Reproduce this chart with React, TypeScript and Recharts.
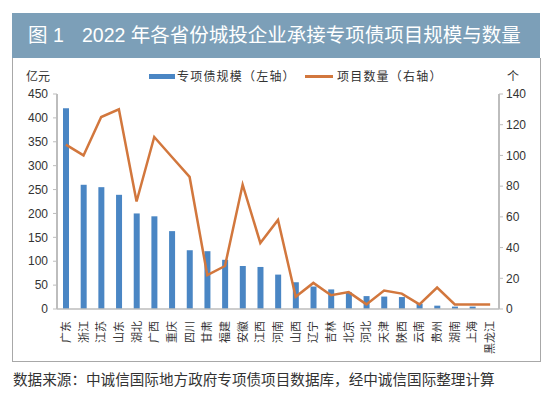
import { ComposedChart, Bar, Line, XAxis, YAxis } from 'recharts'

const provinces = [
  '广东', '浙江', '江苏', '山东', '湖北', '广西', '重庆', '四川', '甘肃', '福建',
  '安徽', '江西', '河南', '山西', '辽宁', '吉林', '北京', '河北', '天津', '陕西',
  '云南', '贵州', '湖南', '上海', '黑龙江',
]
// 专项债规模（亿元）
const scale = [
  420, 260, 255, 239, 200, 194, 163, 123, 121, 103,
  90, 88, 72, 56, 47, 41, 35, 27, 26, 25,
  11, 7, 5, 5, 0,
]
// 项目数量（个）
const counts = [
  107, 100, 125, 130, 70, 112, 99, 86, 22, 28,
  81, 43, 58, 8, 17, 9, 11, 3, 12, 10,
  3, 14, 3, 3, 3,
]
const leftTicks = [0, 50, 100, 150, 200, 250, 300, 350, 400, 450]
const rightTicks = [0, 20, 40, 60, 80, 100, 120, 140]

const data = provinces.map((name, i) => ({ name, scale: scale[i], count: counts[i] }))

const FONT = '"Liberation Sans", "Noto Sans CJK SC", sans-serif'
const BLUE = '#4a86c4'
const ORANGE = '#d2773d'
const AXIS = '#bdbdbd'
const TEXT = '#333333'

function ProvinceTick(props: any) {
  const { x, y, payload } = props
  return (
    <text
      x={x}
      y={y}
      transform={`rotate(-90, ${x}, ${y})`}
      textAnchor="end"
      dominantBaseline="central"
      fontSize={11}
      fill={TEXT}
      fontFamily={FONT}
    >
      {payload.value}
    </text>
  )
}

export default function App() {
  return (
    <div style={{ position: 'absolute', left: 0, top: 0, width: 550, height: 395, background: '#fff', fontFamily: FONT }}>
      {/* title banner */}
      <div style={{ position: 'absolute', left: 12, top: 13, width: 528, height: 45, background: '#7c9fb8' }} />
      <div style={{ position: 'absolute', left: 28, top: 22, color: '#fff', fontSize: 19.5, lineHeight: '26px', whiteSpace: 'nowrap' }}>
        图 1
      </div>
      <div style={{ position: 'absolute', left: 82, top: 22, color: '#fff', fontSize: 19.5, lineHeight: '26px', whiteSpace: 'nowrap' }}>
        2022 年各省份城投企业承接专项债项目规模与数量
      </div>
      {/* frame */}
      <div style={{ position: 'absolute', left: 12, top: 58, width: 527, height: 303, border: '1px solid #a8a8a8', borderTop: 'none' }} />

      <div style={{ position: 'absolute', left: 0, top: 0 }}>
        <ComposedChart width={550} height={395} data={data} margin={{ top: 94, right: 11, bottom: 36, left: 0 }}>
          <XAxis
            dataKey="name"
            interval={0}
            height={50}
            tick={<ProvinceTick />}
            tickLine={false}
            axisLine={{ stroke: AXIS, strokeWidth: 1.5 }}
            tickMargin={6}
          />
          <YAxis
            yAxisId="left"
            domain={[0, 450]}
            ticks={leftTicks}
            width={57}
            tickSize={4}
            tickMargin={5}
            tick={{ fill: TEXT, fontSize: 12, fontFamily: FONT }}
            axisLine={{ stroke: AXIS, strokeWidth: 2 }}
            tickLine={{ stroke: AXIS }}
          />
          <YAxis
            yAxisId="right"
            orientation="right"
            domain={[0, 140]}
            ticks={rightTicks}
            width={40}
            tickSize={4}
            tickMargin={3}
            tick={{ fill: TEXT, fontSize: 12, fontFamily: FONT }}
            axisLine={{ stroke: AXIS, strokeWidth: 2 }}
            tickLine={{ stroke: AXIS }}
          />
          <Bar yAxisId="left" dataKey="scale" fill={BLUE} barSize={6} isAnimationActive={false} />
          <Line
            yAxisId="right"
            type="linear"
            dataKey="count"
            stroke={ORANGE}
            strokeWidth={2.5}
            dot={false}
            isAnimationActive={false}
          />
        </ComposedChart>
      </div>

      {/* axis units */}
      <div style={{ position: 'absolute', left: 26, top: 67, fontSize: 12, color: TEXT }}>亿元</div>
      <div style={{ position: 'absolute', left: 507, top: 67, fontSize: 12, color: TEXT }}>个</div>

      {/* legend */}
      <div style={{ position: 'absolute', left: 149, top: 74, width: 26, height: 5, background: BLUE }} />
      <div style={{ position: 'absolute', left: 177, top: 67, fontSize: 12, letterSpacing: 1.2, color: TEXT, whiteSpace: 'nowrap' }}>专项债规模（左轴）</div>
      <div style={{ position: 'absolute', left: 305, top: 75, width: 28, height: 3, background: ORANGE }} />
      <div style={{ position: 'absolute', left: 337, top: 67, fontSize: 12, letterSpacing: 1.2, color: TEXT, whiteSpace: 'nowrap' }}>项目数量（右轴）</div>

      {/* source */}
      <div style={{ position: 'absolute', left: 13, top: 368, fontSize: 14.6, color: TEXT, whiteSpace: 'nowrap' }}>
        数据来源：中诚信国际地方政府专项债项目数据库，经中诚信国际整理计算
      </div>
    </div>
  )
}
